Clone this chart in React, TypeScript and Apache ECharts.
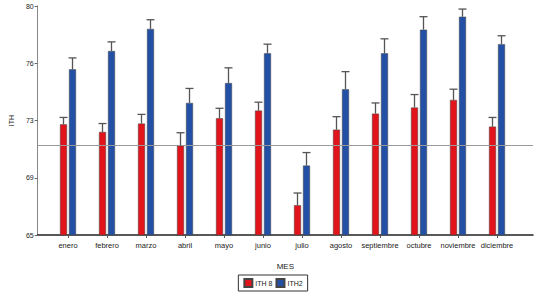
import React, { useEffect, useRef } from "react";
import * as echarts from "echarts";

const months = ["enero", "febrero", "marzo", "abril", "mayo", "junio", "julio", "agosto", "septiembre", "octubre", "noviembre", "diciembre"];
const ith8 = [72.25, 71.75, 72.3, 70.85, 72.65, 73.15, 66.95, 71.9, 72.95, 73.35, 73.85, 72.1];
const ith8Err = [0.45, 0.55, 0.6, 0.85, 0.65, 0.55, 0.8, 0.85, 0.7, 0.85, 0.7, 0.6];
const ith2 = [75.85, 77.05, 78.5, 73.65, 74.95, 76.9, 69.55, 74.55, 76.9, 78.45, 79.3, 77.5];
const ith2Err = [0.75, 0.6, 0.6, 0.95, 1.0, 0.6, 0.85, 1.15, 0.95, 0.85, 0.5, 0.55];
const refLine = 70.9;
const seriesNames = ["ITH 8", "ITH2"];

const BAR_W = 7;
const BAR_GAP = 2;

function errorSeries(values: number[], errs: number[], side: number) {
  return {
    type: "custom",
    xAxisIndex: 1,
    yAxisIndex: 1,
    silent: true,
    z: 5,
    data: values.map((v, i) => [i, v, v + errs[i]]),
    renderItem: (params: any, api: any) => {
      const i = api.value(0);
      const base = api.coord([i, api.value(1)]);
      const top = api.coord([i, api.value(2)]);
      const x = base[0] + side * (BAR_W + BAR_GAP) / 2;
      const style = { stroke: "#555", lineWidth: 1.3 };
      return {
        type: "group",
        children: [
          { type: "line", shape: { x1: x, y1: base[1], x2: x, y2: top[1] }, style },
          { type: "line", shape: { x1: x - 4, y1: top[1], x2: x + 4, y2: top[1] }, style },
        ],
      };
    },
  };
}

export default function App() {
  const ref = useRef<HTMLDivElement>(null);
  useEffect(() => {
    document.body.style.margin = "0";
    if (!ref.current) return;
    const chart = echarts.init(ref.current, null, { renderer: "svg" });
    const font = "Liberation Sans, Arial, sans-serif";
    chart.setOption({
      animation: false,
      backgroundColor: "#fff",
      textStyle: { fontFamily: font },
      legend: {
        bottom: 9,
        left: "center",
        data: seriesNames,
        itemWidth: 8,
        itemHeight: 8,
        itemGap: 3,
        padding: [3, 5],
        borderColor: "#333",
        borderWidth: 1,
        textStyle: { fontSize: 7, color: "#222", fontFamily: font, padding: [0, 0, 0, -2] },
        icon: "rect",
      },
      grid: [
        { left: 31, right: 13, top: 6, bottom: 65 },
        { left: 48.5, right: 29.5, top: 6, bottom: 65 },
      ],
      xAxis: [
        {
          gridIndex: 0,
          type: "value",
          min: 0,
          max: 1,
          axisLine: { show: true, lineStyle: { color: "#222", width: 1.5 } },
          axisTick: { show: false },
          axisLabel: { show: false },
          splitLine: { show: false },
          name: "MES",
          nameLocation: "middle",
          nameGap: 27,
          nameTextStyle: { fontSize: 8, color: "#222", fontFamily: font },
        },
        {
          gridIndex: 1,
          type: "category",
          data: months,
          axisLine: { show: false },
          axisTick: { show: true, alignWithLabel: true, length: 3, lineStyle: { color: "#555" } },
          axisLabel: { fontSize: 7.5, color: "#222", margin: 6, interval: 0 },
        },
      ],
      yAxis: [
        {
          gridIndex: 0,
          type: "value",
          min: 65,
          max: 80,
          interval: 3.75,
          axisLine: { show: true, lineStyle: { color: "#888" } },
          axisTick: { show: true, length: 3, lineStyle: { color: "#666" } },
          axisLabel: { fontSize: 7, color: "#222", margin: 4, formatter: (v: number) => String(Math.round(v)) },
          splitLine: { show: false },
          name: "ITH",
          nameLocation: "middle",
          nameGap: 17,
          nameTextStyle: { fontSize: 7, color: "#222", fontFamily: font },
        },
        {
          gridIndex: 1,
          type: "value",
          min: 65,
          max: 80,
          show: false,
        },
      ],
      series: [
        {
          type: "line",
          xAxisIndex: 0,
          yAxisIndex: 0,
          data: [],
          silent: true,
          markLine: {
            silent: true,
            symbol: "none",
            label: { show: false },
            lineStyle: { color: "#999", type: "solid", width: 1 },
            data: [{ yAxis: refLine }],
          },
        },
        {
          name: seriesNames[0],
          type: "bar",
          xAxisIndex: 1,
          yAxisIndex: 1,
          data: ith8,
          barWidth: BAR_W,
          barGap: `${(BAR_GAP / BAR_W) * 100}%`,
          itemStyle: { color: "#e0141a", borderColor: "#444", borderWidth: 0.5 },
        },
        {
          name: seriesNames[1],
          type: "bar",
          xAxisIndex: 1,
          yAxisIndex: 1,
          data: ith2,
          barWidth: BAR_W,
          itemStyle: { color: "#2350a5", borderColor: "#444", borderWidth: 0.5 },
        },
        errorSeries(ith8, ith8Err, -1),
        errorSeries(ith2, ith2Err, 1),
      ],
    });
    return () => chart.dispose();
  }, []);
  return <div ref={ref} style={{ width: 546, height: 300 }} />;
}
